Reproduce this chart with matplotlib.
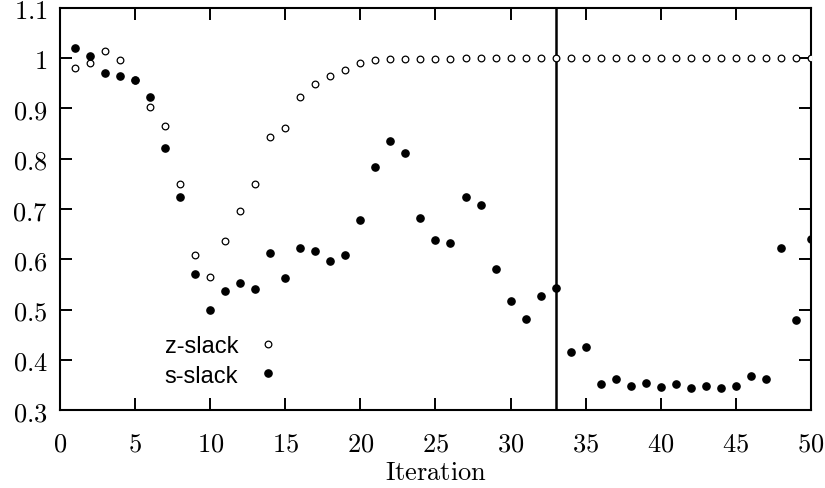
import numpy as np
import matplotlib
matplotlib.use("Agg")
from matplotlib import pyplot as plt
from matplotlib.ticker import FuncFormatter

plt.rcParams['mathtext.fontset'] = 'cm'

iteracao = np.arange(1, 51)

z_slack = [0.980, 0.990, 1.014, 0.996, 0.957, 0.902, 0.866, 0.750, 0.608, 0.564,
           0.636, 0.697, 0.750, 0.843, 0.862, 0.922, 0.948, 0.964, 0.976, 0.990,
           0.996, 0.998, 0.998, 0.998, 0.998, 0.999, 1.0, 1.0, 1.0, 1.0,
           1.0, 1.0, 1.0, 1.0, 1.0, 1.0, 1.0, 1.0, 1.0, 1.0,
           1.0, 1.0, 1.0, 1.0, 1.0, 1.0, 1.0, 1.0, 1.0, 1.0]

s_slack = [1.020, 1.004, 0.970, 0.965, 0.957, 0.922, 0.821, 0.723, 0.570, 0.500,
           0.536, 0.553, 0.540, 0.612, 0.562, 0.622, 0.616, 0.596, 0.608, 0.679,
           0.783, 0.835, 0.811, 0.683, 0.638, 0.632, 0.723, 0.707, 0.580, 0.517,
           0.482, 0.526, 0.542, 0.415, 0.425, 0.351, 0.361, 0.348, 0.353, 0.345,
           0.351, 0.343, 0.348, 0.343, 0.348, 0.367, 0.361, 0.622, 0.480, 0.640]

linha_vertical = 33

fig = plt.figure(figsize=(8.25, 4.89), dpi=100)
ax = fig.add_axes([0.0727, 0.1595, 0.9103, 0.8221])

ax.plot(iteracao, z_slack, 'o', mfc='white', mec='black', mew=0.9, ms=4.8,
        label='z-slack', zorder=3)
ax.plot(iteracao, s_slack, 'o', color='black', ms=5.2, label='s-slack', zorder=4)
ax.axvline(linha_vertical, color='black', lw=1.8, zorder=2)

ax.set_xlim(0, 50)
ax.set_ylim(0.3, 1.1)
ax.set_xticks(np.arange(0, 51, 5))
ax.set_yticks(np.arange(0.3, 1.11, 0.1))
ax.xaxis.set_major_formatter(FuncFormatter(lambda v, p: r'$%d$' % round(v)))
ax.yaxis.set_major_formatter(FuncFormatter(lambda v, p: r'$%s$' % ('%.1f' % v).rstrip('0').rstrip('.')))
ax.tick_params(direction='in', length=8.6, width=1.4, labelsize=19,
               top=True, right=True)
ax.tick_params(axis='x', pad=15)
ax.tick_params(axis='y', pad=9)

for s in ax.spines.values():
    s.set_linewidth(1.5)

ax.set_xlabel(r'$\mathrm{Iteration}$', fontsize=19, labelpad=1.5)

ax.legend(loc='center right', bbox_to_anchor=(0.308, 0.122), frameon=False,
          markerfirst=False, handlelength=1.0, handletextpad=0.75,
          labelspacing=0.3, borderpad=0,
          prop={'family': 'Liberation Sans', 'size': 17})

plt.savefig('out.png', dpi=100)
